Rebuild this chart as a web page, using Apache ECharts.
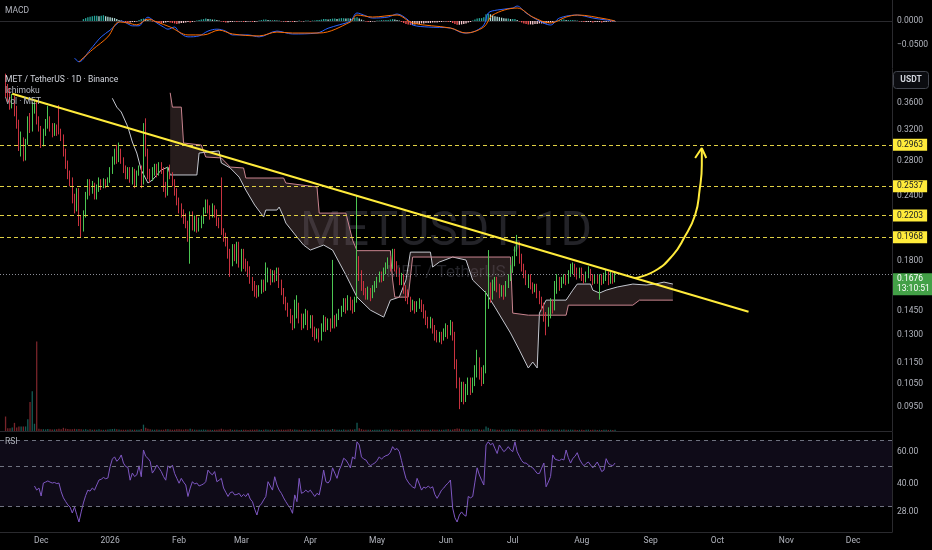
<!DOCTYPE html>
<html><head><meta charset="utf-8">
<script src="https://cdn.jsdelivr.net/npm/echarts@6/dist/echarts.min.js"></script>
<style>html,body{margin:0;padding:0;background:#000;}#c{width:932px;height:550px;}</style>
</head><body><div id="c"></div>
<script>
// ---------- time axis ----------
const firstDay = '2025-11-13';
const dayCount = 401;
const monthNames = ['Jan','Feb','Mar','Apr','May','Jun','Jul','Aug','Sep','Oct','Nov','Dec'];

// ---------- candles [open, close, low, high], first candle at day index candleStart ----------
const candleStart = 2;
const candles = [
[0.395,0.380,0.370,0.410],[0.380,0.372,0.362,0.392],[0.372,0.360,0.350,0.385],[0.360,0.366,0.352,0.375],[0.366,0.350,0.340,0.372],
[0.350,0.330,0.322,0.356],[0.330,0.300,0.292,0.335],[0.300,0.305,0.285,0.318],[0.305,0.284,0.279,0.310],[0.284,0.305,0.280,0.308],
[0.305,0.328,0.300,0.340],[0.328,0.322,0.316,0.345],[0.322,0.350,0.318,0.362],[0.350,0.356,0.344,0.365],[0.356,0.335,0.328,0.362],
[0.335,0.322,0.318,0.340],[0.322,0.300,0.296,0.326],[0.300,0.318,0.298,0.322],[0.318,0.330,0.312,0.336],[0.330,0.336,0.322,0.356],
[0.336,0.322,0.318,0.340],[0.322,0.318,0.310,0.330],[0.318,0.325,0.312,0.330],[0.325,0.318,0.312,0.328],[0.322,0.318,0.314,0.357],
[0.318,0.310,0.305,0.322],[0.310,0.290,0.285,0.314],[0.290,0.275,0.270,0.295],[0.275,0.262,0.258,0.280],[0.262,0.255,0.250,0.268],
[0.255,0.238,0.232,0.260],[0.238,0.228,0.222,0.242],[0.228,0.245,0.224,0.248],[0.245,0.215,0.210,0.248],[0.215,0.208,0.200,0.220],
[0.208,0.222,0.205,0.225],[0.222,0.240,0.218,0.244],[0.240,0.252,0.236,0.258],[0.252,0.245,0.240,0.258],[0.245,0.250,0.242,0.256],
[0.250,0.240,0.236,0.254],[0.240,0.248,0.236,0.252],[0.248,0.255,0.244,0.260],[0.255,0.250,0.246,0.258],[0.250,0.255,0.248,0.259],
[0.255,0.252,0.248,0.258],[0.252,0.256,0.250,0.260],[0.256,0.268,0.254,0.272],[0.268,0.280,0.264,0.285],[0.280,0.288,0.275,0.295],
[0.288,0.282,0.276,0.300],[0.282,0.292,0.278,0.303],[0.292,0.280,0.276,0.295],[0.280,0.270,0.265,0.284],[0.270,0.262,0.258,0.274],
[0.262,0.268,0.258,0.272],[0.268,0.258,0.254,0.272],[0.258,0.268,0.252,0.272],[0.268,0.252,0.248,0.270],[0.252,0.265,0.250,0.268],
[0.265,0.270,0.262,0.274],[0.270,0.252,0.248,0.274],[0.256,0.312,0.252,0.330],[0.312,0.290,0.285,0.337],[0.290,0.265,0.258,0.295],
[0.265,0.258,0.254,0.270],[0.258,0.268,0.256,0.272],[0.268,0.272,0.262,0.276],[0.272,0.265,0.260,0.276],[0.265,0.274,0.262,0.278],
[0.274,0.268,0.264,0.278],[0.268,0.250,0.244,0.272],[0.250,0.242,0.238,0.255],[0.242,0.268,0.240,0.272],[0.268,0.262,0.258,0.275],
[0.262,0.255,0.250,0.266],[0.255,0.245,0.240,0.258],[0.245,0.235,0.230,0.248],[0.235,0.228,0.222,0.238],[0.228,0.222,0.218,0.232],
[0.222,0.218,0.212,0.226],[0.218,0.212,0.208,0.222],[0.212,0.200,0.196,0.215],[0.200,0.220,0.178,0.224],[0.220,0.210,0.206,0.224],
[0.210,0.216,0.205,0.220],[0.216,0.208,0.204,0.220],[0.208,0.214,0.205,0.218],[0.214,0.216,0.208,0.220],[0.216,0.225,0.212,0.228],
[0.225,0.232,0.222,0.236],[0.232,0.226,0.222,0.236],[0.226,0.220,0.216,0.230],[0.220,0.227,0.218,0.232],[0.227,0.222,0.218,0.230],
[0.222,0.215,0.210,0.226],[0.215,0.212,0.208,0.218],[0.212,0.205,0.202,0.260],[0.205,0.200,0.196,0.208],[0.200,0.196,0.192,0.204],
[0.196,0.186,0.182,0.200],[0.186,0.180,0.168,0.190],[0.180,0.190,0.176,0.194],[0.190,0.184,0.180,0.194],[0.184,0.192,0.178,0.196],
[0.192,0.180,0.175,0.196],[0.180,0.186,0.172,0.190],[0.186,0.178,0.174,0.190],[0.178,0.176,0.172,0.182],[0.176,0.172,0.168,0.180],
[0.172,0.166,0.163,0.176],[0.166,0.162,0.158,0.168],[0.162,0.158,0.154,0.165],[0.158,0.156,0.153,0.162],[0.156,0.160,0.154,0.162],
[0.160,0.164,0.156,0.166],[0.164,0.160,0.157,0.166],[0.160,0.168,0.158,0.179],[0.168,0.172,0.164,0.175],[0.172,0.166,0.162,0.174],
[0.166,0.170,0.164,0.173],[0.170,0.167,0.164,0.173],[0.167,0.172,0.165,0.175],[0.172,0.164,0.160,0.175],[0.164,0.158,0.155,0.166],
[0.158,0.152,0.149,0.160],[0.152,0.148,0.145,0.154],[0.148,0.144,0.141,0.150],[0.144,0.140,0.137,0.146],[0.140,0.136,0.133,0.142],
[0.136,0.144,0.134,0.152],[0.144,0.148,0.140,0.155],[0.148,0.140,0.137,0.150],[0.140,0.136,0.133,0.143],[0.136,0.140,0.134,0.143],
[0.140,0.142,0.136,0.146],[0.142,0.136,0.133,0.145],[0.136,0.140,0.134,0.142],[0.140,0.133,0.129,0.142],[0.133,0.130,0.127,0.135],
[0.130,0.132,0.128,0.134],[0.132,0.129,0.126,0.134],[0.129,0.134,0.127,0.137],[0.134,0.139,0.132,0.142],[0.139,0.135,0.132,0.141],
[0.135,0.138,0.133,0.140],[0.138,0.136,0.132,0.140],[0.136,0.140,0.134,0.181],[0.140,0.137,0.134,0.142],[0.137,0.141,0.135,0.143],
[0.141,0.144,0.139,0.146],[0.144,0.146,0.141,0.148],[0.146,0.150,0.144,0.153],[0.150,0.146,0.143,0.153],[0.146,0.152,0.145,0.155],
[0.152,0.148,0.145,0.154],[0.148,0.146,0.143,0.152],[0.146,0.152,0.144,0.154],[0.152,0.180,0.150,0.240],[0.180,0.170,0.165,0.184],
[0.170,0.162,0.158,0.173],[0.162,0.158,0.155,0.165],[0.158,0.155,0.152,0.160],[0.155,0.158,0.152,0.161],[0.158,0.154,0.151,0.160],
[0.154,0.160,0.153,0.162],[0.160,0.162,0.157,0.165],[0.162,0.166,0.160,0.168],[0.166,0.170,0.164,0.172],[0.170,0.167,0.164,0.172],
[0.167,0.172,0.165,0.175],[0.172,0.176,0.170,0.179],[0.176,0.180,0.174,0.183],[0.180,0.176,0.172,0.184],[0.176,0.184,0.174,0.190],
[0.184,0.176,0.172,0.190],[0.176,0.172,0.168,0.180],[0.172,0.166,0.162,0.175],[0.166,0.168,0.162,0.171],[0.168,0.160,0.156,0.170],
[0.160,0.157,0.151,0.162],[0.157,0.152,0.149,0.159],[0.152,0.147,0.144,0.154],[0.147,0.150,0.145,0.152],[0.150,0.146,0.143,0.151],
[0.146,0.149,0.144,0.151],[0.149,0.151,0.146,0.153],[0.151,0.147,0.144,0.152],[0.147,0.143,0.140,0.149],[0.143,0.139,0.136,0.145],
[0.139,0.137,0.134,0.141],[0.137,0.139,0.134,0.141],[0.139,0.134,0.131,0.140],[0.134,0.130,0.127,0.136],[0.130,0.128,0.126,0.133],
[0.128,0.130,0.126,0.132],[0.130,0.128,0.125,0.132],[0.128,0.132,0.127,0.134],[0.132,0.134,0.129,0.137],[0.134,0.131,0.128,0.136],
[0.131,0.136,0.130,0.139],[0.136,0.131,0.127,0.138],[0.131,0.115,0.112,0.132],[0.115,0.106,0.103,0.117],[0.106,0.100,0.094,0.108],
[0.100,0.104,0.097,0.106],[0.104,0.099,0.096,0.106],[0.099,0.103,0.097,0.105],[0.103,0.106,0.100,0.108],[0.106,0.103,0.100,0.108],
[0.103,0.106,0.101,0.108],[0.106,0.112,0.104,0.114],[0.112,0.116,0.108,0.122],[0.116,0.110,0.107,0.118],[0.110,0.107,0.104,0.113],
[0.107,0.112,0.105,0.114],[0.112,0.155,0.110,0.158],[0.150,0.160,0.146,0.189],[0.160,0.155,0.150,0.164],[0.155,0.162,0.152,0.166],
[0.162,0.165,0.158,0.168],[0.165,0.160,0.157,0.168],[0.160,0.156,0.153,0.163],[0.156,0.160,0.154,0.162],[0.160,0.155,0.152,0.162],
[0.155,0.162,0.154,0.165],[0.162,0.168,0.160,0.170],[0.168,0.174,0.165,0.177],[0.174,0.180,0.171,0.184],[0.180,0.188,0.176,0.192],
[0.188,0.192,0.184,0.202],[0.192,0.182,0.178,0.196],[0.182,0.176,0.172,0.186],[0.176,0.170,0.167,0.178],[0.170,0.165,0.162,0.173],
[0.165,0.168,0.160,0.170],[0.168,0.162,0.159,0.170],[0.162,0.159,0.156,0.164],[0.159,0.161,0.157,0.163],[0.161,0.156,0.153,0.163],
[0.156,0.152,0.149,0.158],[0.152,0.148,0.145,0.154],[0.148,0.142,0.138,0.150],[0.142,0.137,0.130,0.144],[0.137,0.144,0.135,0.147],
[0.144,0.150,0.140,0.153],[0.150,0.146,0.143,0.152],[0.146,0.160,0.145,0.165],[0.160,0.165,0.156,0.170],[0.165,0.162,0.158,0.168],
[0.162,0.166,0.160,0.168],[0.166,0.168,0.163,0.170],[0.168,0.165,0.162,0.170],[0.165,0.170,0.163,0.173],[0.170,0.175,0.168,0.178],
[0.175,0.176,0.170,0.179],[0.176,0.172,0.168,0.178],[0.172,0.170,0.166,0.175],[0.170,0.173,0.167,0.175],[0.173,0.168,0.165,0.175],
[0.168,0.166,0.163,0.170],[0.166,0.170,0.164,0.172],[0.170,0.172,0.167,0.176],[0.172,0.168,0.165,0.174],[0.168,0.165,0.162,0.170],
[0.165,0.168,0.163,0.170],[0.168,0.166,0.163,0.170],[0.166,0.168,0.152,0.170],[0.168,0.165,0.162,0.170],[0.165,0.168,0.163,0.171],
[0.168,0.170,0.165,0.174],[0.170,0.165,0.162,0.172],[0.165,0.169,0.163,0.172],[0.169,0.166,0.163,0.171],[0.166,0.1676,0.164,0.171]
];

// ---------- volume (same days as candles) ----------
const volumes = [
16,3,3,4,9,4,5,5,5,5,
13,32,44,8,99,2.5,2,2,1.8,2.2,
2,1.6,1.8,2,2.4,2,3.5,2.6,2.2,2,
1.8,2.4,2,2.2,1.8,1.6,2,1.5,1.8,1.5,
1.6,1.4,1.8,1.5,1.3,1.5,1.6,2,2.2,2.4,
1.8,1.6,1.5,1.4,1.5,1.3,1.6,1.4,1.5,1.3,
1.4,2.2,7,3.5,2.4,1.8,1.5,1.4,1.6,1.3,
1.5,1.4,1.8,2,1.6,1.4,1.5,1.8,2,1.6,
1.5,1.8,1.6,2.4,1.8,1.5,1.4,1.3,1.5,1.6,
1.4,1.3,1.4,1.2,1.3,1.5,1.6,2.5,1.6,1.4,
1.5,1.8,1.3,1.5,1.4,1.2,1.3,1.4,1.3,1.2,
1.3,1.5,1.4,1.6,1.3,1.2,1.4,1.6,1.5,1.3,
1.4,1.2,1.3,1.5,1.6,1.4,1.5,1.7,1.8,1.5,
1.6,1.4,1.3,1.2,1.4,1.3,1.2,1.3,1.4,1.5,
1.3,1.2,1.4,1.3,1.5,1.4,1.3,2.2,1.6,1.4,
1.5,1.3,1.6,1.5,1.4,1.6,1.5,1.8,9,3,
2,1.5,1.4,1.3,1.4,1.2,1.3,1.4,1.5,1.3,
1.4,1.6,1.5,1.8,1.4,1.5,1.3,1.2,1.4,1.3,
1.5,1.6,1.4,1.3,1.2,1.3,1.4,1.5,1.4,1.3,
1.5,1.4,1.6,1.3,1.4,1.5,1.4,1.3,1.6,1.8,
1.5,1.6,2.2,2.8,2.4,2,1.8,1.6,1.7,1.5,
1.6,1.8,2,1.6,1.5,1.7,5,3.5,2.4,1.8,
1.6,1.5,1.4,1.6,1.5,1.4,1.6,1.8,2,1.7,
1.5,1.6,1.4,1.3,1.4,1.5,1.3,1.4,1.6,1.5,
1.8,2,1.6,1.5,1.4,1.6,1.5,1.4,1.3,1.5,
1.4,1.6,1.3,1.4,1.5,1.3,1.4,1.2,1.3,1.4,
1.2,1.3,1.5,1.2,1.3,1.4,1.2,1.3,1.2,1.4,
1.3,1.2,1.3,1.2,1.3
];

// ---------- Ichimoku leading spans [day index, price] ----------
const spanA = [[50,0.368],[52,0.354],[54,0.3465],[57,0.3244],[59,0.3037],[61,0.2894],[63,0.2686],[66,0.2537],[68,0.2570],[70,0.2628],
[72,0.2686],[75,0.2721],[76,0.2628],[88,0.2628],[89,0.2894],[98,0.2921],[99,0.2770],[103,0.2710],[107,0.2604],[110,0.2460],
[114,0.2303],[118,0.2185],[119,0.2253],[124,0.2253],[125,0.2283],[127,0.2185],[128,0.2128],[133,0.2001],[136,0.1932],[139,0.1890],
[145,0.1932],[149,0.1890],[155,0.1694],[160,0.1537],[166,0.1452],[172,0.1408],[175,0.1517],[179,0.1537],[182,0.1657],[184,0.1873],
[193,0.1873],[194,0.1754],[197,0.1793],[203,0.1833],[209,0.1809],[212,0.1657],[218,0.1565],[222,0.1471],[229,0.1313],[233,0.1218],
[237,0.1126],[239,0.1156],[241,0.1126],[242,0.1433],[245,0.1517],[254,0.1517],[257,0.1585],[259,0.1628],[265,0.1628],[266,0.1585],
[269,0.1565],[272,0.1585],[277,0.1607],[284,0.1628],[290,0.1621],[294,0.1628],[298,0.1642],[302,0.1628]];
const spanB = [[76,0.377],[77,0.354],[81,0.354],[82,0.3024],[90,0.2997],[92,0.2844],[99,0.2832],[103,0.2721],[109,0.2710],[110,0.2593],
[127,0.2593],[128,0.2537],[142,0.2493],[143,0.2223],[155,0.2223],[158,0.1975],[160,0.1885],[175,0.1885],[176,0.1657],[177,0.1537],
[183,0.1537],[185,0.1833],[229,0.1833],[230,0.1433],[237,0.1420],[254,0.1420],[255,0.1484],[284,0.1484],[287,0.1517],[302,0.1517]];

// ---------- RSI (daily, from rsiStart) ----------
const rsiStart = 15;
const rsi = [
39,37,38,34.3,40.5,41,41.6,41,40.5,40.8,
40.2,40.5,36.2,33.5,32,30.6,29.8,27.6,29.8,27,
24.6,28,31.4,34.5,37,36.5,38,37,39.5,42.1,
42.5,43.5,42.8,43.2,50,55,56.6,53.5,55,58,
52.3,50,49.5,42,46,44,45,50.5,43.9,61.8,
57,55.6,53.5,46,48,51,49,46.9,44,42,
50.5,49,50.9,45.8,43,40.4,43,41,39.5,34.1,
38,41.2,40,40.5,39,39.5,40,41.2,47.8,46,
45,46.9,41.2,42,43,38,36,34.1,35.8,36.2,
34.8,35,35.5,34,35,34.1,35.5,33,31.9,29,
26.9,30.1,31,32.6,34.1,41.2,39,37,43.9,39.5,
37,35.5,33.5,31.9,30.5,29.4,27.5,34.8,31.9,43,
35.5,36,37,36,37,35.5,34.1,35.5,34.8,40,
47.8,41.2,40.5,42.1,49.2,46,43,47.8,51,55.6,
54.4,52,49.2,56.6,55,68.6,65.9,56.6,55,54.4,
52,50.5,51.5,52.3,54,56.6,55,56.5,57.5,58,
60,64.5,62,63,60.5,54,47.8,43,41,39.5,
38.5,37.9,43,40,37,38.5,37.9,39,38,38.6,
35,33.3,35,37,38,39.5,40.5,42.1,29.4,26,
24.6,26.9,28,27,26.5,34.1,33.5,34.1,41,49.2,
44.9,42,39.5,65.9,68.6,66,67.4,63,59.1,65.9,
63,60.5,62,64.5,62,60.5,68.6,60.5,57,54,
52.3,52.3,51,50,49.2,47.5,45.8,45.8,49,52.3,
38.6,41,44,58,55,54.4,54,55,54.4,61.8,
56,52.3,55.5,57,59.7,55,52.3,50.5,52,53,
51,49.2,51,53,50,46.9,47.8,55.3,52,51,
50.5,52.3
];
const rsiBands = [70, 50, 30];

// ---------- MACD ----------
const histStart = 37;
const macdHist = [
0.004,0.006,0.008,0.009,0.010,0.011,0.011,0.010,0.011,0.012,
0.010,0.009,0.008,0.007,0.006,0.004,0.002,0.001,-0.002,-0.003,
-0.004,-0.003,-0.002,-0.002,-0.001,0.002,0.004,0.005,0.004,0.002,
0.001,-0.001,-0.002,-0.003,-0.004,-0.005,-0.004,-0.003,-0.002,-0.003,
-0.004,-0.005,-0.006,-0.005,-0.004,-0.004,-0.003,-0.002,-0.003,-0.002,
-0.001,0.001,0.002,0.003,0.004,0.005,0.004,0.004,0.003,0.003,
0.002,0.001,-0.001,-0.002,-0.003,-0.003,-0.002,-0.002,-0.001,-0.002,
-0.001,-0.001,-0.002,-0.002,-0.001,-0.001,-0.002,-0.002,-0.001,0.001,
0.002,0.003,0.003,0.002,0.002,0.001,0.002,0.001,0.001,-0.001,
-0.001,-0.002,-0.002,-0.001,-0.002,-0.002,-0.001,0.001,-0.001,-0.001,
0.001,0.001,-0.001,0.001,0.001,0.002,0.002,0.003,0.004,0.004,
0.003,0.004,0.005,0.005,0.004,0.005,0.006,0.006,0.005,0.006,
0.005,0.006,0.007,0.008,0.005,0.003,0.001,-0.001,-0.002,-0.002,
-0.001,-0.001,0.001,0.001,0.002,0.001,0.002,0.002,0.003,0.004,
0.003,0.002,0.001,-0.002,-0.004,-0.006,-0.007,-0.008,-0.008,-0.007,
-0.006,-0.006,-0.005,-0.005,-0.004,-0.004,-0.004,-0.003,-0.003,-0.003,
-0.002,-0.002,-0.001,-0.001,-0.002,-0.002,-0.004,-0.006,-0.008,-0.008,
-0.007,-0.006,-0.005,-0.003,-0.002,0.001,0.003,0.005,0.006,0.006,
0.008,0.014,0.015,0.014,0.012,0.010,0.009,0.008,0.007,0.006,
0.005,0.005,0.004,0.004,0.004,0.002,-0.001,-0.003,-0.005,-0.006,
-0.007,-0.007,-0.007,-0.006,-0.006,-0.005,-0.005,-0.005,-0.005,-0.004,
-0.003,-0.002,-0.001,0.001,0.002,0.003,0.003,0.002,0.002,0.002,
0.002,0.001,0.001,-0.001,-0.001,-0.002,-0.002,-0.002,-0.002,-0.003,
-0.002,-0.002,-0.002,-0.003,-0.002,-0.002,-0.001,-0.002,-0.001,-0.001
];
const macdLine = [[33,-0.077],[35,-0.085],[40,-0.060],[44.5,-0.033],[49,-0.019],[52.5,-0.002],[54,0],[56.6,-0.006],[58.8,-0.010],
[61.5,-0.010],[63.8,0],[65.6,0.008],[67,0.006],[70,-0.004],[72.8,-0.0125],[74.6,-0.017],[78.2,-0.0125],[80.4,-0.023],[84,-0.033],
[89.4,-0.031],[93,-0.021],[97,-0.017],[100.6,-0.021],[103.8,-0.029],[110.5,-0.029],[116.4,-0.033],[124,-0.021],[131.2,-0.027],
[142,-0.025],[146.5,-0.015],[152.4,-0.008],[156.8,0],[160,0.0167],[162.7,0.0125],[167.2,0.0062],[173.5,0.0083],[178.4,0.0146],
[182.5,0.0021],[184.7,-0.0083],[191.5,-0.0125],[201.8,-0.0146],[207.6,-0.025],[212.1,-0.023],[216.6,-0.0083],[218.9,0.0167],
[223,0.0229],[230.1,0.0271],[232,0.0312],[236.4,0.0167],[242.3,0],[246.8,-0.0083],[251.3,0.0062],[258.9,0.0125],[266,0.0062],
[272.4,0.0021],[276,0]];
const signalLine = [[35,-0.085],[41.3,-0.060],[47.6,-0.033],[53.4,-0.002],[56.6,-0.004],[61,-0.008],[65.6,0.004],[70,-0.002],
[76,-0.0125],[83.6,-0.029],[90.8,-0.029],[98.4,-0.019],[104.3,-0.027],[116.4,-0.031],[124,-0.023],[131.2,-0.025],[143.4,-0.025],
[156.8,-0.002],[160,0.0125],[167.2,0.0083],[178.4,0.0125],[185.2,-0.0042],[201.8,-0.0146],[209.4,-0.025],[216.6,-0.0125],
[221.1,0.0125],[232,0.0271],[239.1,0.0083],[246.8,-0.0042],[254.4,0.0083],[258.9,0.0125],[272.4,0.0042],[276,0]];

// ---------- drawings ----------
const trendLine = [[5,0.3755],[336,0.1442]];
const arrowPath = [[285.4,0.1671],[294.0,0.1726],[301.6,0.1849],[307.4,0.1992],[311.5,0.2204],[313.7,0.2460],[314.6,0.2745],[314.6,0.2932]];
const arrowHead = [[311.9,0.2831],[314.6,0.2958],[317.3,0.2831]];
const levels = [0.2963, 0.2537, 0.2203, 0.1968];
const lastPrice = 0.1676;
const countdown = '13:10:51';

// ---------- axis ticks ----------
const priceTicks = [0.36,0.32,0.28,0.24,0.20,0.18,0.145,0.13,0.115,0.105,0.095];
const rsiTicks = [60,40,28];
const macdTicks = [0,-0.05];

// ---------- build ----------
const categories = [];
const d0 = new Date(firstDay + 'T00:00:00Z');
for (let i = 0; i < dayCount; i++) {
  categories.push(new Date(d0.getTime() + i * 86400000).toISOString().slice(0, 10));
}
const UP = '#4cc552', DOWN = '#c8323f';
const candleData = candles.map((c, k) => [candleStart + k, c[0], c[1], c[2], c[3]]);
const volData = volumes.map((v, k) => {
  const c = candles[k];
  return { value: [candleStart + k, v], itemStyle: { color: c[1] >= c[0] ? 'rgba(38,166,154,0.55)' : 'rgba(200,60,70,0.6)' } };
});
const rsiData = rsi.map((v, k) => [rsiStart + k, v]);
const histData = macdHist.map((v, k) => {
  const prev = k > 0 ? macdHist[k - 1] : 0;
  let col;
  if (v >= 0) col = v >= prev ? '#26a69a' : '#b2dfdb';
  else col = v >= prev ? '#ffcdd2' : '#ff5252';
  return { value: [histStart + k, v], itemStyle: { color: col } };
});

const FONT = 'Roboto';
const axisTxt = '#b2b5be';
const fmt = v => (v < 0 ? '\u2212' : '') + Math.abs(v).toFixed(4);

function xAx(g) {
  return {
    type: 'category', gridIndex: g, data: categories, boundaryGap: true,
    axisLine: { show: true, lineStyle: { color: '#2a2a2e', width: 1 } },
    axisTick: { show: false }, splitLine: { show: false },
    axisLabel: {
      show: g === 2, color: axisTxt, fontSize: 8.5, fontFamily: FONT, margin: 4,
      interval: (idx, val) => val.slice(8) === '01',
      formatter: val => { const m = +val.slice(5, 7); return m === 1 ? val.slice(0, 4) : monthNames[m - 1]; }
    }
  };
}
const yLine = { show: true, lineStyle: { color: '#2a2a2e' } };

const levelLines = levels.map(v => ({
  yAxis: v,
  lineStyle: { color: '#e0d044', type: [4, 3], width: 1 },
  label: { show: true, position: 'end', distance: 1, formatter: v.toFixed(4), backgroundColor: '#ffeb3b',
    color: '#131722', fontSize: 8.5, fontFamily: FONT, padding: [2, 4, 1, 4] }
}));
levelLines.push({
  yAxis: lastPrice,
  lineStyle: { color: '#8a8d96', type: [1, 2], width: 1 },
  label: { show: true, position: 'end', distance: 1,
    formatter: '{p|' + lastPrice.toFixed(4) + '}\n{t|' + countdown + '}',
    backgroundColor: '#43a047', color: '#ffffff', fontSize: 8.5, fontFamily: FONT, padding: [1, 4, 1, 4],
    rich: { p: { fontSize: 8.5, lineHeight: 10, color: '#fff' }, t: { fontSize: 8.5, lineHeight: 10, color: '#fff' } },
    verticalAlign: 'top', offset: [0, -1] }
});

const option = {
  backgroundColor: '#000000',
  animation: false,
  textStyle: { fontFamily: FONT },
  grid: [
    { left: 0, right: 40, top: 0, height: 68 },
    { left: 0, right: 40, top: 69, height: 362 },
    { left: 0, right: 40, top: 432, height: 100 }
  ],
  xAxis: [xAx(0), xAx(1), xAx(2)],
  yAxis: [
    { gridIndex: 0, type: 'value', position: 'right', min: -0.0979, max: 0.0438, axisLine: yLine, axisTick: { show: false },
      splitLine: { show: false }, axisLabel: { customValues: macdTicks, formatter: fmt, color: axisTxt, fontSize: 8.5, margin: 5 } },
    { gridIndex: 1, type: 'log', position: 'right', min: 0.0854, max: 0.4185, axisLine: yLine, axisTick: { show: false },
      splitLine: { show: false }, axisLabel: { customValues: priceTicks, formatter: v => v.toFixed(4), color: axisTxt, fontSize: 8.5, margin: 5 } },
    { gridIndex: 1, type: 'value', min: 0, max: 400, show: false },
    { gridIndex: 2, type: 'log', position: 'right', min: 21.65, max: 77.8, axisLine: yLine, axisTick: { show: false },
      splitLine: { show: false }, axisLabel: { customValues: rsiTicks, formatter: v => v.toFixed(2), color: axisTxt, fontSize: 8.5, margin: 5 } }
  ],
  graphic: [
    { type: 'text', x: 446, y: 233, z: 0, style: { text: 'METUSDT, 1D', fill: '#232328', font: '48px Roboto', align: 'center', verticalAlign: 'middle' } },
    { type: 'text', x: 446, y: 273, z: 0, style: { text: 'MET / TetherUS', fill: '#232328', font: '17px Roboto', align: 'center', verticalAlign: 'middle' } },
    { type: 'text', x: 5, y: 80, z: 10, style: { text: 'MET / TetherUS · 1D · Binance', fill: '#d1d4dc', font: '8.5px Roboto', verticalAlign: 'middle' } },
    { type: 'text', x: 5, y: 91, z: 10, style: { text: 'Ichimoku', fill: '#b2b5be', font: '8.5px Roboto', verticalAlign: 'middle' } },
    { type: 'text', x: 5, y: 102, z: 10, style: { text: 'Vol · MET', fill: '#b2b5be', font: '8.5px Roboto', verticalAlign: 'middle' } },
    { type: 'text', x: 5, y: 11, z: 10, style: { text: 'MACD', fill: '#b2b5be', font: '8.5px Roboto', verticalAlign: 'middle' } },
    { type: 'text', x: 5, y: 442, z: 10, style: { text: 'RSI', fill: '#b2b5be', font: '8.5px Roboto', verticalAlign: 'middle' } },
    { type: 'rect', x: 893.5, y: 71.5, z: 10, shape: { width: 35, height: 17, r: 3 }, style: { fill: '#0b0c10', stroke: '#43464f', lineWidth: 1 } },
    { type: 'text', x: 911, y: 80, z: 11, style: { text: 'USDT', fill: '#d1d4dc', font: 'bold 8.5px Roboto', align: 'center', verticalAlign: 'middle' } }
  ],
  series: [
    { type: 'bar', name: 'MACD hist', xAxisIndex: 0, yAxisIndex: 0, data: histData, barWidth: 1.3, silent: true },
    { type: 'line', name: 'MACD', xAxisIndex: 0, yAxisIndex: 0, data: macdLine, smooth: 0.35, symbol: 'none',
      lineStyle: { color: '#2962ff', width: 1 }, silent: true },
    { type: 'line', name: 'Signal', xAxisIndex: 0, yAxisIndex: 0, data: signalLine, smooth: 0.35, symbol: 'none',
      lineStyle: { color: '#ff6d00', width: 1 }, silent: true },

    { type: 'custom', name: 'cloud', xAxisIndex: 1, yAxisIndex: 1, data: [[spanB[0][0], spanB[0][1]]], silent: true, clip: true, z: 1,
      renderItem: (params, api) => {
        const bStart = spanB[0][0];
        const top = spanA.filter(p => p[0] >= bStart).map(p => api.coord(p));
        const bot = spanB.slice().reverse().map(p => api.coord(p));
        return { type: 'polygon', shape: { points: top.concat(bot) }, style: { fill: 'rgba(140,105,105,0.27)' } };
      } },
    { type: 'line', name: 'Span A', xAxisIndex: 1, yAxisIndex: 1, data: spanA, symbol: 'none', z: 2,
      lineStyle: { color: '#c4c7cf', width: 1 }, silent: true },
    { type: 'line', name: 'Span B', xAxisIndex: 1, yAxisIndex: 1, data: spanB, symbol: 'none', z: 2,
      lineStyle: { color: '#c9848f', width: 1 }, silent: true },
    { type: 'bar', name: 'Volume', xAxisIndex: 1, yAxisIndex: 2, data: volData, barWidth: 1.3, silent: true, z: 2 },
    { type: 'candlestick', name: 'METUSDT', xAxisIndex: 1, yAxisIndex: 1, data: candleData, encode: { x: 0, y: [1, 2, 3, 4] },
      barWidth: 1.3, z: 3, silent: true,
      itemStyle: { color: UP, color0: DOWN, borderColor: UP, borderColor0: DOWN, borderWidth: 1 },
      markLine: { symbol: ['none', 'none'], silent: true, animation: false, data: levelLines } },
    { type: 'line', name: 'Trend', xAxisIndex: 1, yAxisIndex: 1, data: trendLine, symbol: 'none', z: 5,
      lineStyle: { color: '#ffeb3b', width: 2 }, silent: true },
    { type: 'line', name: 'Arrow', xAxisIndex: 1, yAxisIndex: 1, data: arrowPath, smooth: 0.5, symbol: 'none', z: 5,
      lineStyle: { color: '#ffeb3b', width: 2 }, silent: true },
    { type: 'line', name: 'ArrowHead', xAxisIndex: 1, yAxisIndex: 1, data: arrowHead, symbol: 'none', z: 5,
      lineStyle: { color: '#ffeb3b', width: 2 }, silent: true },

    { type: 'line', name: 'RSI', xAxisIndex: 2, yAxisIndex: 3, data: rsiData, symbol: 'none', z: 3,
      lineStyle: { color: '#7e57c2', width: 1 }, silent: true,
      markArea: { silent: true, itemStyle: { color: 'rgba(126,87,194,0.12)' }, data: [[{ yAxis: rsiBands[0] }, { yAxis: rsiBands[2] }]] },
      markLine: { symbol: ['none', 'none'], silent: true, label: { show: false },
        lineStyle: { color: '#6f7280', type: [4, 4], width: 1 }, data: rsiBands.map(v => ({ yAxis: v })) } }
  ]
};
const chart = echarts.init(document.getElementById('c'), null, { renderer: 'canvas' });
chart.setOption(option);
</script>
</body></html>
